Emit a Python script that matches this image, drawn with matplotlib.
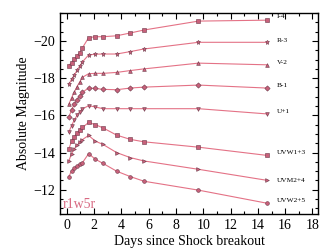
import numpy as np
import matplotlib
matplotlib.use('Agg')
import matplotlib.pyplot as plt
from matplotlib.ticker import MultipleLocator

plt.rcParams['font.family'] = ['Liberation Serif', 'DejaVu Serif']

days = [0.15, 0.35, 0.55, 0.75, 0.95, 1.15, 1.6, 2.1, 2.65, 3.65, 4.65, 5.65, 9.65, 14.65]

bands = ['I-4', 'R-3', 'V-2', 'B-1', 'U+1', 'UVW1+3', 'UVM2+4', 'UVW2+5']
markers = ['s', '*', '^', 'D', 'v', 's', '>', 'o']

mag_I = [-18.68, -18.84, -19.02, -19.2, -19.37, -19.64, -20.18, -20.23, -20.23, -20.28, -20.43, -20.59, -21.07, -21.12]
mag_R = [-17.68, -17.93, -18.17, -18.42, -18.65, -18.88, -19.25, -19.29, -19.3, -19.3, -19.43, -19.57, -19.93, -19.93]
mag_V = [-16.6, -16.95, -17.25, -17.55, -17.8, -18.05, -18.24, -18.26, -18.26, -18.31, -18.41, -18.5, -18.81, -18.72]
mag_B = [-15.9, -16.3, -16.6, -16.85, -17.05, -17.25, -17.47, -17.45, -17.4, -17.38, -17.47, -17.52, -17.63, -17.47]
mag_U = [-15.1, -15.45, -15.75, -16.0, -16.2, -16.35, -16.52, -16.45, -16.36, -16.36, -16.36, -16.36, -16.36, -16.08]
mag_UVW1 = [-14.2, -14.6, -14.85, -15.05, -15.2, -15.35, -15.62, -15.5, -15.33, -14.94, -14.71, -14.58, -14.29, -13.85]
mag_UVM2 = [-13.55, -13.95, -14.2, -14.4, -14.55, -14.7, -14.92, -14.61, -14.44, -14.0, -13.73, -13.55, -13.1, -12.51]
mag_UVW2 = [-12.71, -13.01, -13.16, -13.28, -13.37, -13.46, -13.94, -13.64, -13.42, -13.0, -12.71, -12.46, -11.98, -11.28]
mags = [mag_I, mag_R, mag_V, mag_B, mag_U, mag_UVW1, mag_UVM2, mag_UVW2]

label_y = [-21.3, -20.05, -18.84, -17.6, -16.19, -14.0, -12.51, -11.44]

fig = plt.figure(figsize=(3.35, 2.52), dpi=100)
ax = fig.add_axes([0.179, 0.151, 0.770, 0.797])

for name, mk, m, ly in zip(bands, markers, mags, label_y):
    ms = 3.6 if mk == '*' else 2.7
    ax.plot(days, m, '-', color='#e47286', lw=0.8, marker=mk, ms=ms,
            mfc='#c8607a', mec='#6a3848', mew=0.4)
    ax.text(15.4, ly, name, fontsize=5.3, va='center', ha='left')

ax.text(0.01, 0.015, 'r1w5r', transform=ax.transAxes, color='#d86a82', fontsize=10,
        ha='left', va='bottom')

ax.set_xlim(-0.5, 18.4)
ax.set_ylim(-10.7, -21.5)
ax.xaxis.set_major_locator(MultipleLocator(2))
ax.xaxis.set_minor_locator(MultipleLocator(1))
ax.yaxis.set_major_locator(MultipleLocator(2))
ax.yaxis.set_minor_locator(MultipleLocator(0.5))
ax.tick_params(which='both', direction='in', top=True, right=True, labelsize=10, width=0.8)
ax.tick_params(which='major', length=4)
ax.tick_params(which='minor', length=2)
for s in ax.spines.values():
    s.set_linewidth(1.0)

ax.set_xlabel('Days since Shock breakout', fontsize=10, labelpad=2)
ax.set_ylabel('Absolute Magnitude', fontsize=10, labelpad=2)

fig.savefig('out.png', dpi=100)
